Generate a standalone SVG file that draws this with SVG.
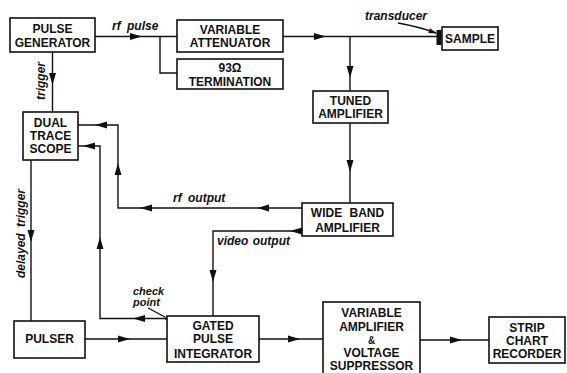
<svg xmlns="http://www.w3.org/2000/svg" width="567" height="373" viewBox="0 0 567 373">
<style>
.box{fill:#fff;stroke:#111;stroke-width:1.6}
.t{font-family:"Liberation Sans",Arial,sans-serif;font-weight:bold;font-size:12px;fill:#111;text-anchor:middle}
.l{font-family:"Liberation Sans",Arial,sans-serif;font-weight:bold;font-style:italic;font-size:12px;fill:#111;word-spacing:3px}
.c{fill:none;stroke:#111;stroke-width:1.4}
.ah{fill:#111}
</style>
<defs>
<path id="ah" d="M0,0 L-12,-3.5 L-12,3.5 Z"/>
</defs>
<g id="connectors">
<path class="c" d="M95,36.5 H177"/>
<path class="c" d="M160,36.5 V73 H177"/>
<path class="c" d="M283,36.5 H437"/>
<path class="c" d="M350,36.5 V91"/>
<path class="c" d="M350,123 V203"/>
<path class="c" d="M302,208 H118 V125 H78"/>
<path class="c" d="M302,231 H213 V316"/>
<path class="c" d="M167,318.5 H100 V146 H78"/>
<path class="c" d="M52.5,52 V112"/>
<path class="c" d="M31,160 V321"/>
<path class="c" d="M85,339 H167"/>
<path class="c" d="M259,339 H323"/>
<path class="c" d="M420,340 H489"/>
<path class="c" d="M398,23 Q420,27 436,33"/>
<path class="c" d="M148,308 L165,317"/>
<circle cx="167" cy="318.5" r="2" fill="#111"/>
<rect x="436.5" y="30" width="5" height="15" fill="#111"/>
<g class="ah">
<use href="#ah" transform="translate(142,36.5)"/>
<use href="#ah" transform="translate(326,36.5)"/>
<use href="#ah" transform="translate(350,78) rotate(90)"/>
<use href="#ah" transform="translate(350,172) rotate(90)"/>
<use href="#ah" transform="translate(257,208) rotate(180)"/>
<use href="#ah" transform="translate(140,208) rotate(180)"/>
<use href="#ah" transform="translate(118,163) rotate(-90)"/>
<use href="#ah" transform="translate(95,125) rotate(180)"/>
<use href="#ah" transform="translate(83,146) rotate(180)"/>
<use href="#ah" transform="translate(100,237) rotate(-90)"/>
<use href="#ah" transform="translate(133,318.5) rotate(180)"/>
<use href="#ah" transform="translate(290,231) rotate(180)"/>
<use href="#ah" transform="translate(213,282) rotate(90)"/>
<use href="#ah" transform="translate(52.5,85) rotate(90)"/>
<use href="#ah" transform="translate(31,242) rotate(90)"/>
<use href="#ah" transform="translate(130,339)"/>
<use href="#ah" transform="translate(300,339)"/>
<use href="#ah" transform="translate(462,340)"/>
<use href="#ah" transform="translate(437,33.5) rotate(20) scale(0.7)"/>
</g>
<text class="l" x="112" y="30">rf pulse</text>
<text class="l" x="173" y="202">rf output</text>
<text class="l" x="217" y="245" style="word-spacing:1px">video output</text>
<text class="l" x="133" y="294.5" style="font-size:11px">check</text>
<text class="l" x="133" y="306" style="font-size:11px">point</text>
<text class="l" x="365" y="20">transducer</text>
<text class="l" transform="translate(45,100) rotate(-90)">trigger</text>
<text class="l" transform="translate(25,278) rotate(-90)">delayed trigger</text>
</g>
<g id="pulse-generator">
<rect class="box" x="10" y="18" width="85" height="34"/>
<text class="t" x="52.5" y="33">PULSE</text>
<text class="t" x="52.5" y="46.5">GENERATOR</text>
</g>
<g id="variable-attenuator">
<rect class="box" x="177" y="20" width="106" height="32"/>
<text class="t" x="230" y="34">VARIABLE</text>
<text class="t" x="230" y="47">ATTENUATOR</text>
</g>
<g id="termination">
<rect class="box" x="177" y="59" width="106" height="30"/>
<text class="t" x="230" y="72">93Ω</text>
<text class="t" x="230" y="86">TERMINATION</text>
</g>
<g id="sample">
<rect class="box" x="442" y="27" width="56" height="23"/>
<text class="t" x="470" y="43">SAMPLE</text>
</g>
<g id="tuned-amplifier">
<rect class="box" x="313" y="91" width="75" height="32"/>
<text class="t" x="350.5" y="105">TUNED</text>
<text class="t" x="350.5" y="118">AMPLIFIER</text>
</g>
<g id="wide-band-amplifier">
<rect class="box" x="302" y="203" width="91" height="33"/>
<text class="t" x="347.5" y="217" style="word-spacing:4px">WIDE BAND</text>
<text class="t" x="347.5" y="232">AMPLIFIER</text>
</g>
<g id="dual-trace-scope">
<rect class="box" x="23" y="112" width="55" height="48"/>
<text class="t" x="50.5" y="127">DUAL</text>
<text class="t" x="50.5" y="140">TRACE</text>
<text class="t" x="50.5" y="153">SCOPE</text>
</g>
<g id="pulser">
<rect class="box" x="14" y="321" width="71" height="37"/>
<text class="t" x="49.5" y="343">PULSER</text>
</g>
<g id="gated-pulse-integrator">
<rect class="box" x="167" y="316" width="92" height="46"/>
<text class="t" x="213" y="330">GATED</text>
<text class="t" x="213" y="343">PULSE</text>
<text class="t" x="213" y="358">INTEGRATOR</text>
</g>
<g id="variable-amplifier">
<rect class="box" x="323" y="302" width="97" height="75"/>
<text class="t" x="371.5" y="317">VARIABLE</text>
<text class="t" x="371.5" y="331">AMPLIFIER</text>
<text class="t" x="371.5" y="343.5" style="font-size:10px">&amp;</text>
<text class="t" x="371.5" y="357">VOLTAGE</text>
<text class="t" x="371.5" y="370">SUPPRESSOR</text>
</g>
<g id="strip-chart-recorder">
<rect class="box" x="489" y="317" width="76" height="46"/>
<text class="t" x="527" y="332">STRIP</text>
<text class="t" x="527" y="345">CHART</text>
<text class="t" x="527" y="358">RECORDER</text>
</g>
</svg>
